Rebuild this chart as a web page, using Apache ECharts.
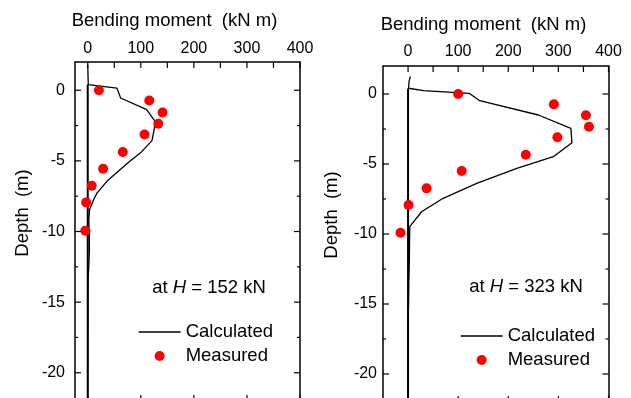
<!DOCTYPE html>
<html>
<head>
<meta charset="utf-8">
<script src="https://cdn.jsdelivr.net/npm/echarts@6/dist/echarts.min.js"></script>
<style>
html,body{margin:0;padding:0;background:#fff;}
#chart{width:631px;height:398px;}
</style>
</head>
<body>
<div id="chart"></div>
<script>
// ---- Data ----
var xTickValues  = [0, 50, 100, 150, 200, 250, 300, 350, 400];   // moment ticks
var xLabelValues = [0, 100, 200, 300, 400];                       // labelled moment ticks
var yMajorValues = [0, -5, -10, -15, -20];                        // labelled depth ticks
var yMinorValues = [-2.5, -7.5, -12.5, -17.5];                    // short depth ticks

// Left panel (H = 152 kN)
var leftCalcMoment = [0, 1, 55, 62, 111, 127, 125, 121, 99, 77, 36, 17, 11, 3.5, 2, 3, 3, 2, 0.5, 0];
var leftCalcDepth  = [1.8, 0.4, 0.15, -0.55, -1.37, -2.2, -2.8, -3.57, -4.45, -5.1, -6.45, -7.3, -7.75, -8.45, -9.2, -10.5, -11.5, -12.5, -13.5, -22];
var leftMeasMoment = [21, 116, 141, 133, 107, 66, 29, 7.5, -3, -4.5];
var leftMeasDepth  = [0, -0.72, -1.57, -2.37, -3.13, -4.37, -5.56, -6.76, -7.94, -9.94];

// Right panel (H = 323 kN)
var rightCalcMoment = [4.6, 2, 1, 31, 122, 143, 260, 325, 327, 290, 217, 137, 70, 27, 3.4, 3, 2.5, 1.5, 1, 0, 0];
var rightCalcDepth  = [1.25, 0.9, 0.41, 0.24, 0.05, -0.48, -1.5, -2.45, -3.48, -4.48, -5.31, -6.38, -7.45, -8.41, -9.48, -10.5, -12, -13.5, -15, -16, -22];
var rightMeasMoment = [100, 291, 355, 361, 298, 235, 107, 37, 1, -15];
var rightMeasDepth  = [0, -0.74, -1.52, -2.34, -3.09, -4.34, -5.5, -6.74, -7.93, -9.91];

// Pile axis (zero line)
var pileMoment = [0, 0];
var pileDepth = [0.4, -22];

var xMinLeft = -24, xMinRight = -50, xMax = 400;
var yMin = -22, yMax = 2;

var FONT = '"Liberation Sans", Arial, sans-serif';
var BLACK = '#000';
var SIDE = { top: 0, bottom: 1, left: 2, right: 3 };
var TICK_LEN = { major: 6, minor: 3 };

function pairs(xs, ys) { return xs.map(function (x, i) { return [x, ys[i]]; }); }

// tick marks drawn through the axes' own scale (api.coord)
function tickData() {
  var d = [];
  xTickValues.forEach(function (v) { d.push([v, SIDE.top, TICK_LEN.major]); });
  xLabelValues.forEach(function (v) { d.push([v, SIDE.bottom, TICK_LEN.major]); });
  xTickValues.forEach(function (v) { if (xLabelValues.indexOf(v) < 0) d.push([v, SIDE.bottom, TICK_LEN.minor]); });
  yMajorValues.forEach(function (v) { d.push([v, SIDE.left, TICK_LEN.major]); d.push([v, SIDE.right, TICK_LEN.major]); });
  yMinorValues.forEach(function (v) { d.push([v, SIDE.left, TICK_LEN.minor]); d.push([v, SIDE.right, TICK_LEN.minor]); });
  return d;
}

function tickSeries(xi, yi, xmin) {
  return {
    name: 'ticks', type: 'custom', xAxisIndex: xi, yAxisIndex: yi, silent: true, clip: false, z: 5,
    encode: { x: 0, y: -1 },
    data: tickData(),
    renderItem: function (params, api) {
      var v = api.value(0), side = api.value(1), len = api.value(2);
      var p, q;
      if (side === SIDE.top) { p = api.coord([v, yMax]); q = [p[0], p[1] + len]; }
      else if (side === SIDE.bottom) { p = api.coord([v, yMin]); q = [p[0], p[1] - len]; }
      else if (side === SIDE.left) { p = api.coord([xmin, v]); q = [p[0] + len, p[1]]; }
      else { p = api.coord([xMax, v]); q = [p[0] - len, p[1]]; }
      return { type: 'line', shape: { x1: p[0], y1: p[1], x2: q[0], y2: q[1] },
        style: { stroke: BLACK, lineWidth: 1.2 } };
    }
  };
}

function xAxes(g, xmin, labelMargin) {
  var line = { show: true, onZero: false, lineStyle: { color: BLACK, width: 1.5 } };
  return [
    { gridIndex: g, type: 'value', position: 'top', min: xmin, max: xMax,
      axisLine: line, splitLine: { show: false }, axisTick: { show: false },
      axisLabel: { show: true, customValues: xLabelValues, margin: labelMargin, fontSize: 16, color: BLACK, fontFamily: FONT } },
    { gridIndex: g, type: 'value', position: 'bottom', min: xmin, max: xMax,
      axisLine: line, splitLine: { show: false }, axisTick: { show: false }, axisLabel: { show: false } }
  ];
}

function yAxes(g, labelMargin) {
  var line = { show: true, onZero: false, lineStyle: { color: BLACK, width: 1.5 } };
  return [
    { gridIndex: g, type: 'value', position: 'left', min: yMin, max: yMax,
      axisLine: line, splitLine: { show: false }, axisTick: { show: false },
      axisLabel: { show: true, customValues: yMajorValues, margin: labelMargin, fontSize: 16, color: BLACK, fontFamily: FONT } },
    { gridIndex: g, type: 'value', position: 'right', min: yMin, max: yMax,
      axisLine: line, splitLine: { show: false }, axisTick: { show: false }, axisLabel: { show: false } }
  ];
}

function panelSeries(xi, yi, xmin, calcX, calcY, measX, measY) {
  return [
    { name: 'pile', type: 'line', xAxisIndex: xi, yAxisIndex: yi, data: pairs(pileMoment, pileDepth),
      symbol: 'none', silent: true, lineStyle: { color: BLACK, width: 2 }, z: 2 },
    { name: 'Calculated', type: 'line', xAxisIndex: xi, yAxisIndex: yi, data: pairs(calcX, calcY),
      symbol: 'none', showSymbol: false, lineStyle: { color: BLACK, width: 1.3 }, itemStyle: { color: BLACK }, z: 3 },
    { name: 'Measured', type: 'scatter', xAxisIndex: xi, yAxisIndex: yi, data: pairs(measX, measY),
      symbol: 'circle', symbolSize: 10, itemStyle: { color: '#ff0000', opacity: 1 }, z: 4 },
    tickSeries(xi, yi, xmin)
  ];
}

function legendFor(left, top) {
  return {
    left: left, top: top, orient: 'vertical', padding: 0, itemGap: 0,
    itemWidth: 42, itemHeight: 10, selectedMode: false,
    data: [
      { name: 'Calculated', itemStyle: { opacity: 0 }, lineStyle: { width: 1.3, color: BLACK, opacity: 1 } },
      { name: 'Measured', itemStyle: { opacity: 1 } }
    ],
    textStyle: { fontSize: 18.5, lineHeight: 24, color: BLACK, fontFamily: FONT }
  };
}

function annot(x, y, value) {
  var base = { fontSize: 18.5, fontFamily: FONT, color: BLACK };
  return {
    type: 'text', x: x, y: y,
    style: {
      text: '{n|at }{i|H}{n| = ' + value + ' kN}',
      align: 'center', verticalAlign: 'middle', fontSize: 18.5, fontFamily: FONT, fill: BLACK,
      rich: { n: base, i: Object.assign({ fontStyle: 'italic' }, base) }
    }
  };
}

function label(x, y, text, rot) {
  return {
    type: 'text', x: x, y: y, rotation: rot || 0,
    style: { text: text, align: 'center', verticalAlign: 'middle', fontSize: 18.5, fontFamily: FONT, fill: BLACK }
  };
}

var chart = echarts.init(document.getElementById('chart'), null, { renderer: 'canvas' });
chart.setOption({
  animation: false,
  backgroundColor: '#fff',
  grid: [
    { left: 75, top: 62, width: 225, height: 339, outerBoundsMode: 'none', containLabel: false },
    { left: 383, top: 66, width: 225.5, height: 336, outerBoundsMode: 'none', containLabel: false }
  ],
  xAxis: xAxes(0, xMinLeft, 5.5).concat(xAxes(1, xMinRight, 6.5)),
  yAxis: yAxes(0, 10).concat(yAxes(1, 6)),
  legend: [legendFor(138, 320), legendFor(460, 324)],
  series: panelSeries(0, 0, xMinLeft, leftCalcMoment, leftCalcDepth, leftMeasMoment, leftMeasDepth)
    .concat(panelSeries(2, 2, xMinRight, rightCalcMoment, rightCalcDepth, rightMeasMoment, rightMeasDepth)),
  graphic: [
    label(174.5, 20.5, 'Bending moment  (kN m)'),
    label(483.5, 24.5, 'Bending moment  (kN m)'),
    label(23, 213, 'Depth  (m)', Math.PI / 2),
    label(332, 215, 'Depth  (m)', Math.PI / 2),
    annot(209, 287.5, '152'),
    annot(526, 286.5, '323')
  ]
});
</script>
</body>
</html>
